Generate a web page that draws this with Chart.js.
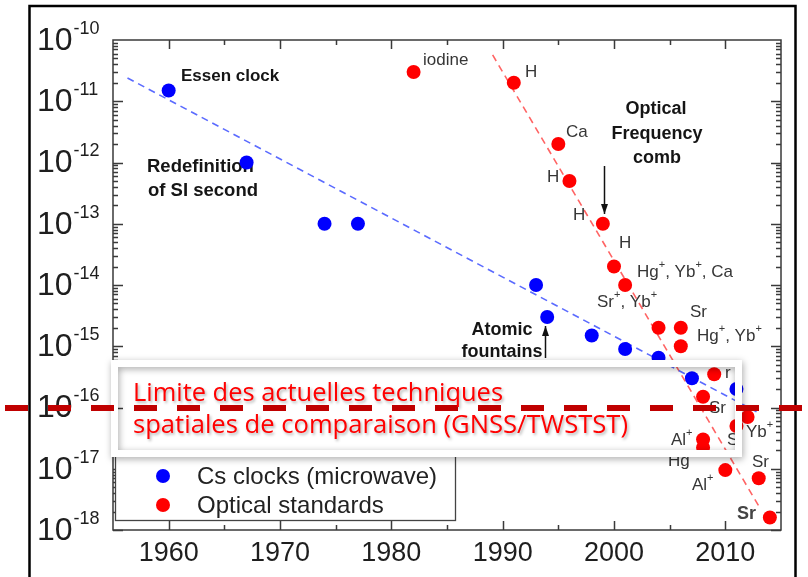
<!DOCTYPE html>
<html><head><meta charset="utf-8">
<script src="https://cdn.jsdelivr.net/npm/chart.js@4/dist/chart.umd.min.js"></script>
<style>html,body{margin:0;padding:0;background:#fff;overflow:hidden}canvas{display:block}</style>
</head><body>
<canvas id="c" width="808" height="577"></canvas>
<script>
// ---------- data ----------
const csYears  = [1960, 1967, 1974, 1977, 1993, 1994, 1998, 2001, 2004, 2007, 2011];
const csValues = [1.5e-11, 1e-12, 1e-13, 1e-13, 1e-14, 3e-15, 1.5e-15, 9e-16, 6.5e-16, 3e-16, 2e-16];
const optYears  = [1982, 1991, 1995, 1996, 1999, 2000, 2001, 2004, 2006, 2006, 2009, 2008, 2011, 2012, 2008, 2008, 2010, 2013, 2014];
const optValues = [3e-11, 2e-11, 2e-12, 5e-13, 1e-13, 2e-14, 1e-14, 2e-15, 2e-15, 1e-15, 3.5e-16, 1.5e-16, 5e-17, 7e-17, 3e-17, 2.2e-17, 9.5e-18, 7e-18, 1.6e-18];
const csTrendYears  = [1956.3, 2012.8];
const csTrendValues = [2.4e-11, 8.5e-17];
const optTrendYears  = [1989.1, 2013.1];
const optTrendValues = [5.7e-11, 2.3e-18];
const xTickLabels = ['1960', '1970', '1980', '1990', '2000', '2010'];
const yExponents = [-10, -11, -12, -13, -14, -15, -16, -17, -18];
const seriesNames = ['Cs clocks (microwave)', 'Optical standards'];
const limitValue = 1e-16;
const limitText = ['Limite des actuelles techniques', 'spatiales de comparaison (GNSS/TWSTST)'];

// ---------- layout of annotations (pixel positions) ----------
const boldNotes = [
  ['Essen clock', 181, 76, 'left', 17],
  ['Redefinition', 147, 167, 'left', 18.5],
  ['of SI second', 148, 191, 'left', 18.5],
  ['Optical', 656, 109, 'center', 18],
  ['Frequency', 657, 134, 'center', 18],
  ['comb', 657, 158, 'center', 18],
  ['Atomic', 502, 330, 'center', 18],
  ['fountains', 502, 352, 'center', 18]
];
const pointNotes = [
  ['iodine', 423, 60], ['H', 525, 72], ['Ca', 566, 132], ['H', 547, 177], ['H', 573, 215],
  ['H', 619, 243], ['Hg^+, Yb^+, Ca', 637, 272], ['Sr^+, Yb^+', 597, 302], ['Sr', 690, 312],
  ['Hg^+, Yb^+', 697, 336], ['r', 725, 373], ['Sr', 709, 408], ['Al^+', 671, 440], ['S', 727, 440],
  ['Yb^+', 746, 432], ['Hg', 668, 461], ['Sr', 752, 462], ['Al^+', 692, 485]
];

const SANS = '"Liberation Sans", Arial, Helvetica, sans-serif';

function drawRich(ctx, s, x, y, size, bold, align, color) {
  const parts = [];
  for (let i = 0; i < s.length; i++) {
    if (s[i] === '^') { parts.push({t: s[i + 1], sup: true}); i++; }
    else if (parts.length && !parts[parts.length - 1].sup) parts[parts.length - 1].t += s[i];
    else parts.push({t: s[i], sup: false});
  }
  const f = sz => (bold ? 'bold ' : '') + sz + 'px ' + SANS;
  let total = 0;
  parts.forEach(p => { ctx.font = f(p.sup ? Math.round(size * 0.62) : size); p.w = ctx.measureText(p.t).width; total += p.w; });
  let cx = align === 'center' ? x - total / 2 : x;
  ctx.textBaseline = 'middle'; ctx.textAlign = 'left'; ctx.fillStyle = color;
  parts.forEach(p => {
    ctx.font = f(p.sup ? Math.round(size * 0.62) : size);
    ctx.fillText(p.t, cx, p.sup ? y - size * 0.4 : y);
    cx += p.w;
  });
}

function arrow(ctx, x, y1, y2) {
  ctx.save();
  ctx.strokeStyle = '#111'; ctx.fillStyle = '#111'; ctx.lineWidth = 1.5;
  ctx.beginPath(); ctx.moveTo(x, y1); ctx.lineTo(x, y2); ctx.stroke();
  const d = y2 > y1 ? 1 : -1;
  ctx.beginPath(); ctx.moveTo(x, y2); ctx.lineTo(x - 3.5, y2 - d * 10); ctx.lineTo(x + 3.5, y2 - d * 10); ctx.closePath(); ctx.fill();
  ctx.restore();
}

const deco = {
  id: 'deco',
  beforeDatasetsDraw(chart) {
    const ctx = chart.ctx, ca = chart.chartArea, xs = chart.scales.x, ys = chart.scales.y;
    ctx.save();
    // outer black frame
    ctx.strokeStyle = '#000'; ctx.lineWidth = 2.5;
    ctx.beginPath(); ctx.moveTo(29.5, 580); ctx.lineTo(29.5, 6); ctx.lineTo(795.5, 6); ctx.lineTo(795.5, 580); ctx.stroke();
    // plot frame
    ctx.strokeStyle = '#3a3a3a'; ctx.lineWidth = 1.5;
    ctx.strokeRect(ca.left, ca.top, ca.right - ca.left, ca.bottom - ca.top);
    ctx.beginPath();
    // x ticks
    xTickLabels.forEach(l => {
      const v = +l;
      [v, v + 5].forEach((yr, j) => {
        if (yr >= 2015) return;
        const px = Math.round(xs.getPixelForValue(yr)) + 0.5, len = j === 0 ? 9 : 5;
        ctx.moveTo(px, ca.bottom); ctx.lineTo(px, ca.bottom - len);
        ctx.moveTo(px, ca.top); ctx.lineTo(px, ca.top + len);
      });
    });
    // y ticks
    for (let e = -18; e <= -11; e++) {
      for (let k = 1; k <= 9; k++) {
        const py = Math.round(ys.getPixelForValue(k * Math.pow(10, e))) + 0.5, len = k === 1 ? 10 : 5;
        ctx.moveTo(ca.left, py); ctx.lineTo(ca.left + len, py);
        ctx.moveTo(ca.right, py); ctx.lineTo(ca.right - len, py);
      }
    }
    ctx.stroke();
    // x labels
    ctx.fillStyle = '#1e1e1e'; ctx.font = '27px ' + SANS; ctx.textAlign = 'center'; ctx.textBaseline = 'middle';
    xTickLabels.forEach(l => ctx.fillText(l, xs.getPixelForValue(+l), 554));
    // y labels
    yExponents.forEach(e => {
      const py = ys.getPixelForValue(Math.pow(10, e)) + 1;
      ctx.textAlign = 'left'; ctx.textBaseline = 'middle';
      ctx.font = '32px ' + SANS; ctx.fillText('10', 37, py);
      const w = ctx.measureText('10').width;
      ctx.font = '18px ' + SANS; ctx.fillText(String(e), 37 + w + 1, py - 12);
    });
    // legend
    ctx.fillStyle = '#fff'; ctx.fillRect(115, 452, 340, 69);
    ctx.strokeStyle = '#444'; ctx.lineWidth = 1.3; ctx.strokeRect(115.5, 452.5, 340, 68);
    [['#0000ff', 476], ['#ff0000', 505]].forEach((c, i) => {
      ctx.fillStyle = c[0]; ctx.beginPath(); ctx.arc(163, c[1], 7, 0, Math.PI * 2); ctx.fill();
      ctx.fillStyle = '#222'; ctx.font = '24px ' + SANS; ctx.textAlign = 'left'; ctx.textBaseline = 'middle';
      ctx.fillText(seriesNames[i], 197, c[1] + 1);
    });
    // bold notes
    boldNotes.forEach(n => drawRich(ctx, n[0], n[1], n[2], n[4], true, n[3], '#151515'));
    arrow(ctx, 604.5, 166, 214);
    arrow(ctx, 545.5, 358, 326);
    ctx.restore();
  },
  afterDatasetsDraw(chart) {
    const ctx = chart.ctx, ys = chart.scales.y;
    ctx.save();
    pointNotes.forEach(n => drawRich(ctx, n[0], n[1], n[2], 17, false, 'left', '#363636'));
    drawRich(ctx, 'Sr', 737, 514, 18, true, 'left', '#444');
    // overlay frame (ring) with shadow
    ctx.save();
    ctx.shadowColor = 'rgba(0,0,0,0.35)'; ctx.shadowBlur = 7; ctx.shadowOffsetX = 1; ctx.shadowOffsetY = 2;
    ctx.fillStyle = '#fff';
    ctx.beginPath();
    ctx.rect(111, 360, 631, 97);
    ctx.rect(118, 367, 617, 83);
    ctx.fill('evenodd');
    ctx.restore();
    // limit dashed line
    const ly = ys.getPixelForValue(limitValue) + 0.5;
    ctx.strokeStyle = '#c00000'; ctx.lineWidth = 6; ctx.setLineDash([23, 20]);
    ctx.beginPath(); ctx.moveTo(5, ly); ctx.lineTo(808, ly); ctx.stroke();
    ctx.setLineDash([]);
    // red text
    ctx.shadowColor = 'rgba(0,0,0,0.3)'; ctx.shadowBlur = 3; ctx.shadowOffsetX = 1.5; ctx.shadowOffsetY = 1.5;
    ctx.fillStyle = '#ff0000'; ctx.textAlign = 'left'; ctx.textBaseline = 'alphabetic';
    ctx.font = '25px "Open Sans", sans-serif';
    [[limitText[0], 401, 370], [limitText[1], 433, 495]].forEach(t => {
      const w = ctx.measureText(t[0]).width;
      ctx.save(); ctx.translate(133, t[1]); ctx.scale(t[2] / w, 1); ctx.fillText(t[0], 0, 0); ctx.restore();
    });
    ctx.restore();
  }
};

new Chart(document.getElementById('c').getContext('2d'), {
  type: 'scatter',
  data: {
    datasets: [
      { label: 'Cs trend', type: 'line', data: csTrendYears.map((x, i) => ({x, y: csTrendValues[i]})),
        borderColor: '#5b6bff', borderWidth: 1.6, borderDash: [7, 5], pointRadius: 0, showLine: true, fill: false, order: 3 },
      { label: 'Optical trend', type: 'line', data: optTrendYears.map((x, i) => ({x, y: optTrendValues[i]})),
        borderColor: '#ff6464', borderWidth: 1.6, borderDash: [7, 5], pointRadius: 0, showLine: true, fill: false, order: 3 },
      { label: seriesNames[0], data: csYears.map((x, i) => ({x, y: csValues[i]})),
        backgroundColor: '#0000ff', borderColor: '#0000ff', borderWidth: 0, pointRadius: 7, order: 1 },
      { label: seriesNames[1], data: optYears.map((x, i) => ({x, y: optValues[i]})),
        backgroundColor: '#ff0000', borderColor: '#ff0000', borderWidth: 0, pointRadius: 7, order: 1 }
    ]
  },
  options: {
    responsive: false, animation: false, devicePixelRatio: 1,
    layout: { padding: { left: 113, top: 40, right: 27, bottom: 47 } },
    plugins: { legend: { display: false }, tooltip: { enabled: false } },
    scales: {
      x: { type: 'linear', min: 1955, max: 2015, display: false },
      y: { type: 'logarithmic', min: 1e-18, max: 1e-10, display: false }
    }
  },
  plugins: [deco]
});
</script>
</body></html>
